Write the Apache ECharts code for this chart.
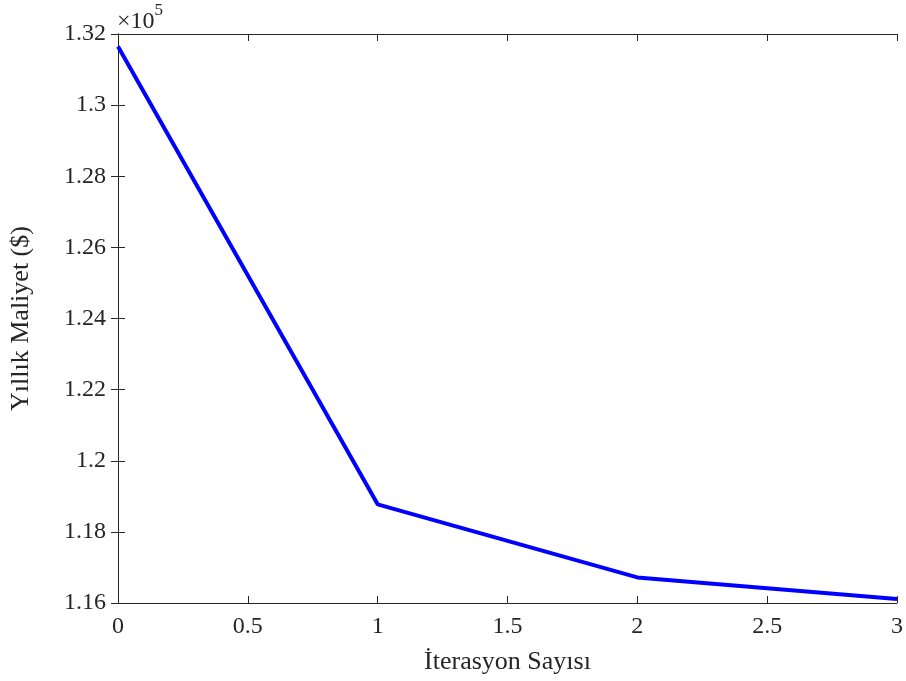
<!DOCTYPE html>
<html><head><meta charset="utf-8">
<script src="https://cdn.jsdelivr.net/npm/echarts@6/dist/echarts.min.js"></script>
<style>html,body{margin:0;padding:0;background:#fff}#c{width:906px;height:681px}</style>
</head><body><div id="c"></div>
<script>
const iterations = [0, 1, 2, 3];
const annualCost = [131650, 118775, 116720, 116110];
const xTitle = 'İterasyon Sayısı';
const yTitle = 'Yıllık Maliyet ($)';
const FONT = '"Liberation Serif", "Times New Roman", serif';
const AX = '#262626';

const chart = echarts.init(document.getElementById('c'), null, {renderer: 'canvas'});
const fmtY = v => String(+(v / 1e5).toFixed(2));
const axCommon = {
  axisLine: {show: true, lineStyle: {color: AX, width: 1}},
  axisTick: {show: true, inside: true, length: 7, lineStyle: {color: AX}},
  splitLine: {show: false}
};
chart.setOption({
  animation: false,
  grid: {left: 116, right: 8, top: 34, bottom: 78},
  xAxis: [
    Object.assign({type: 'value', min: 0, max: 3, interval: 0.5, position: 'bottom',
      name: xTitle, nameLocation: 'middle', nameGap: 46,
      nameTextStyle: {fontFamily: FONT, fontSize: 26, color: AX},
      axisLabel: {fontFamily: FONT, fontSize: 24, color: AX, margin: 12}}, axCommon),
    Object.assign({type: 'value', min: 0, max: 3, interval: 0.5, position: 'top',
      axisLabel: {show: false}}, axCommon)
  ],
  yAxis: [
    Object.assign({type: 'value', min: 116000, max: 132000, interval: 2000, position: 'left',
      name: yTitle, nameLocation: 'middle', nameGap: 84, nameRotate: 90,
      nameTextStyle: {fontFamily: FONT, fontSize: 26, color: AX},
      axisLabel: {fontFamily: FONT, fontSize: 24, color: AX, margin: 12, formatter: fmtY}}, axCommon),
    Object.assign({type: 'value', min: 116000, max: 132000, interval: 2000, position: 'right',
      axisLabel: {show: false}}, axCommon)
  ],
  graphic: [{
    type: 'text', left: 117, top: 2,
    style: {
      text: '{a|×10}{b|5}',
      rich: {
        a: {fontFamily: FONT, fontSize: 24, fill: AX, padding: [8, 0, 0, 0]},
        b: {fontFamily: FONT, fontSize: 17, fill: AX, verticalAlign: 'top', padding: [0, 0, 12, 0]}
      }
    }
  }],
  series: [{
    type: 'line',
    data: iterations.map((x, i) => [x, annualCost[i]]),
    showSymbol: false,
    lineStyle: {color: '#0000ff', width: 4},
    z: 1
  }]
});
</script></body></html>
